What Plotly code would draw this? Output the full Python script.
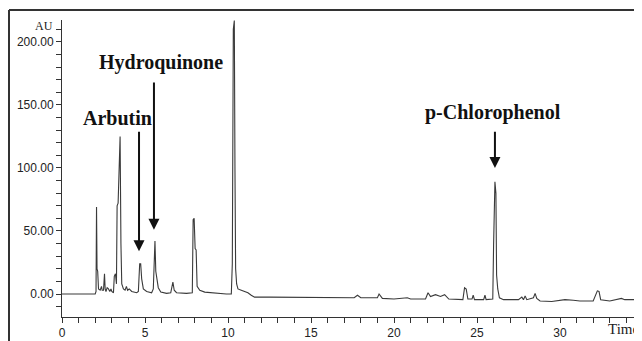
import plotly.graph_objects as go

# Chromatogram trace (retention time in min, absorbance in AU)
time = [0.0, 0.8, 0.9, 1.0, 2.0, 2.05, 2.08, 2.11, 2.15, 2.2, 2.3, 2.38, 2.42, 2.5, 2.56, 2.6,
        2.65, 2.72, 2.8, 2.88, 2.95, 3.0, 3.1, 3.15, 3.22, 3.28, 3.32, 3.38, 3.45, 3.5, 3.55,
        3.6, 3.7, 3.8, 3.88, 3.95, 4.05, 4.2, 4.5, 4.6, 4.68, 4.74, 4.8, 4.9, 5.1, 5.4, 5.5,
        5.55, 5.6, 5.65, 5.72, 5.8, 5.95, 6.3, 6.55, 6.62, 6.68, 6.76, 6.9, 7.5, 7.85, 7.9,
        7.96, 8.02, 8.08, 8.14, 8.3, 8.6, 9.0, 9.3, 9.5, 9.9, 10.2, 10.26, 10.32, 10.38, 10.42,
        10.46, 10.52, 10.6, 10.8, 11.0, 11.2, 11.4, 11.6, 12.5, 13.5, 15.0, 16.5, 16.8, 17.6,
        17.8, 18.0, 19.0, 19.1, 19.3, 20.0, 20.8, 21.0, 21.9, 22.05, 22.2, 22.5, 22.8, 23.05,
        23.3, 24.15, 24.25, 24.35, 24.45, 24.7, 24.77, 24.85, 25.4, 25.48, 25.55, 25.95, 26.0,
        26.08, 26.14, 26.18, 26.25, 26.35, 26.6, 27.5, 27.7, 27.8, 27.9, 28.0, 28.4, 28.5,
        28.6, 28.8, 29.5, 30.0, 30.3, 30.8, 31.2, 32.0, 32.25, 32.35, 32.45, 33.0, 33.7, 33.9,
        35.0]
absorbance = [0, 0, 0.5, 0, 0, 2, 69, 20, 18, 4, 3, 6, 3, 3, 16, 4,
              2, 5, 4, 2, 4, 2, 1, 14, 16, 8, 70, 72, 120, 125, 40,
              8, 4, 3, 6, 3, 4, 2, 1, 2, 24, 24, 12, 4, 2, 1, 4,
              24, 42, 18, 13, 5, 1.5, 0.5, 1, 8, 9.5, 3, 1, 0.5, 1, 59,
              60, 36, 35, 6, 3, 1.5, 1, 0.5, 0.5, 0, 0, 24, 210, 217, 98,
              20, 8, 4, 3, 2, 1, -1, -2.5, -2.5, -2.5, -2.5, -2.5, -3, -3,
              -1, -3, -3, 0, -3.5, -4, -3, -4, -4, 1, -2, -0.5, -2, -0.5,
              -4, -4.5, 5, 4, -4, -4, -1, -4.5, -4.5, -1, -4.5, -4, 39,
              89, 80, 15, 4, -3, -4.5, -4.5, -2.5, -4.5, -1.5, -4.5, -3, 0.5,
              -3.5, -5.5, -6, -5, -4.5, -5, -5.5, -5.5, 2.5, 2, -4.5, -5.5, -3.5, -4.5,
              -4.5]

x_ticks = [0, 5, 10, 15, 20, 25, 30]
y_ticks = [0, 50, 100, 150, 200]
y_tick_labels = ["0.00", "50.00", "100.00", "150.00", "200.00"]

peak_names = ["Arbutin", "Hydroquinone", "p-Chlorophenol"]

LINE = "#333333"
SERIF = "Liberation Serif, Times New Roman, serif"
SANS = "Liberation Sans, Arial, sans-serif"

fig = go.Figure()
fig.add_trace(go.Scatter(x=time, y=absorbance, mode="lines",
                         line=dict(color="#3a3a3a", width=1.1),
                         hoverinfo="skip", showlegend=False))

axis_common = dict(showgrid=False, zeroline=False, showline=True, linecolor=LINE,
                   linewidth=1, ticks="outside", ticklen=5, tickcolor=LINE, automargin=False,
                   tickfont=dict(family=SANS, size=12, color="#222222"))

fig.update_xaxes(range=[0, 34.94], tickvals=x_ticks,
                 minor=dict(dtick=1, tick0=0, ticks="outside", ticklen=5, tickcolor=LINE),
                 **axis_common)
fig.update_yaxes(range=[-18.25, 217.4], tickvals=y_ticks, ticktext=y_tick_labels,
                 minor=dict(dtick=10, tick0=0, ticks="outside", ticklen=5, tickcolor=LINE),
                 **axis_common)

# Arrows pointing to the labelled peaks (tip, tail) in data units
arrow_specs = [
    (4.64, 34, 4.64, 130),
    (5.54, 51, 5.54, 169),
    (26.08, 100, 26.08, 130),
]
for (xt, yt, xa, ya) in arrow_specs:
    fig.add_annotation(x=xt, y=yt, ax=xa, ay=ya, axref="x", ayref="y",
                       xref="x", yref="y", text="", showarrow=True,
                       arrowhead=2, arrowsize=1.1, arrowwidth=2, arrowcolor="#111111")

label_pos = [(3.34, 140), (5.96, 184), (25.96, 144)]
for name, (lx, ly) in zip(peak_names, label_pos):
    fig.add_annotation(x=lx, y=ly, xref="x", yref="y", text="<b>%s</b>" % name,
                       showarrow=False, xanchor="center", yanchor="middle",
                       font=dict(family=SERIF, size=20, color="#111111"))

fig.add_annotation(x=-0.031, y=0.98, xref="paper", yref="paper", text="AU",
                   showarrow=False, xanchor="center", yanchor="middle",
                   font=dict(family=SERIF, size=12, color="#222222"))
fig.add_annotation(x=33.8, y=-0.04, xref="x", yref="paper", text="Time",
                   showarrow=False, xanchor="center", yanchor="middle",
                   font=dict(family=SERIF, size=15, color="#222222"))

# outer frame (top and left edges of the figure box)
fx = (9 - 62) / 580
fy = 1 + (20 - 10) / 297
fig.add_shape(type="line", xref="paper", yref="paper", x0=fx, x1=1.1, y0=fy, y1=fy,
              line=dict(color=LINE, width=2))
fig.add_shape(type="line", xref="paper", yref="paper", x0=fx, x1=fx, y0=fy, y1=-0.2,
              line=dict(color=LINE, width=2))

# the page adds an 8px body margin, so the figure is 8px smaller and offset accordingly
fig.update_layout(width=634, height=333, margin=dict(l=54, r=0, t=12, b=24),
                  paper_bgcolor="white", plot_bgcolor="white")

fig.write_html("out.html")
